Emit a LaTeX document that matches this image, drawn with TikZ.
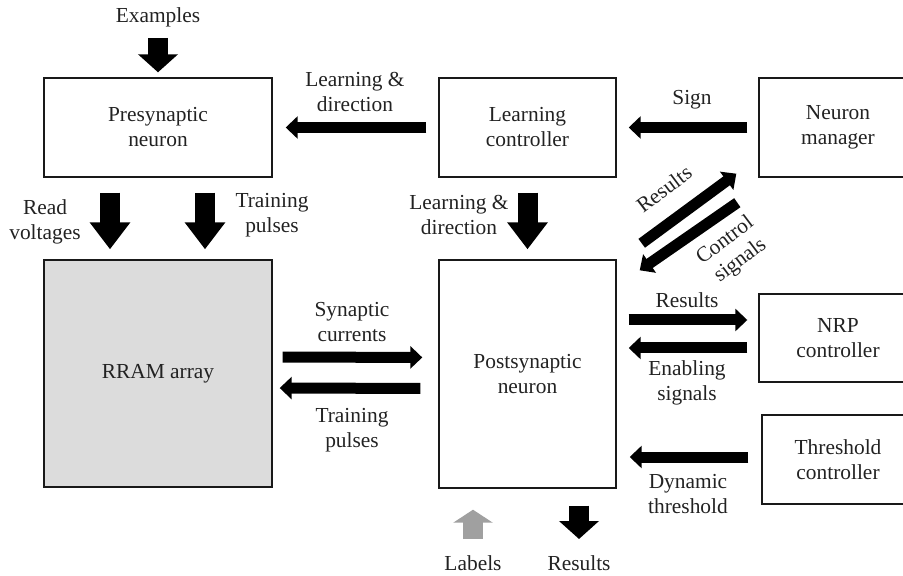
\documentclass[tikz,border=0pt]{standalone}
\usepackage{fontspec}
\setmainfont{Liberation Serif}
\usetikzlibrary{arrows.meta}

\definecolor{txtgray}{HTML}{222222}
\definecolor{lblgray}{HTML}{A0A0A0}
\definecolor{memgray}{HTML}{DCDCDC}

\tikzset{
    blk/.style={draw=black!90, line width=0.7pt, align=center, inner sep=0pt},
    sig/.style={line width=5.5pt, -{Triangle[length=6pt,width=11pt]}},
    bus/.style={line width=10pt, -{Triangle[length=#1,width=19.5pt]}},
    bus/.default=13.5pt,
}

\begin{document}
\begin{tikzpicture}[x=0.5pt,y=-0.5pt,
    every node/.style={font=\fontsize{10.7}{12.5}\selectfont, text=txtgray, align=center}]
        \path[use as bounding box, clip] (0,0) rectangle (903,576);

        % blocks
        \node[blk, minimum width=114pt, minimum height=49.5pt] (pre) at (158,127.5) {Presynaptic\\neuron};
        \node[blk, minimum width=88.5pt, minimum height=49.5pt] (lc) at (527.5,127.5) {Learning\\controller};
        \node[blk, minimum width=79pt, minimum height=49.5pt] (nm) at (838,127.5) {Neuron\\manager};
        \node[blk, fill=memgray, minimum width=114pt, minimum height=113.5pt] (rram) at (158,373.5) {RRAM array};
        \node[blk, minimum width=88.5pt, minimum height=114pt] (post) at (527.5,374) {Postsynaptic\\neuron};
        \node[blk, minimum width=79pt, minimum height=44pt] (nrp) at (838,338) {NRP\\controller};
        \node[blk, minimum width=76pt, minimum height=44.5pt] (thr) at (838,459.5) {Threshold\\controller};

        % free ends
        \coordinate (ex) at (158,38);
        \coordinate (lab) at (473,539);
        \coordinate (res) at (579,539);

        % top row
        \draw[bus=9pt, shorten >=2.5pt] (ex) -- (pre.north);
        \draw[sig, shorten <=6pt, shorten >=6.5pt] (lc.west) -- (pre.east); % to presynaptic
        \draw[sig, shorten <=5.5pt, shorten >=6pt] (nm.west) -- (lc.east);

        % down arrows
        \draw[bus, shorten <=7.5pt, shorten >=5pt] ([xshift=-24pt]pre.south) -- ([xshift=-24pt]rram.north);
        \draw[bus, shorten <=7.5pt, shorten >=5pt] ([xshift=23.5pt]pre.south) -- ([xshift=23.5pt]rram.north);
        \draw[bus, shorten <=7.5pt, shorten >=5pt] (lc.south) -- (post.north);

        % array <-> postsynaptic
        \draw[sig, shorten <=5pt, shorten >=8pt] ([yshift=8.25pt]rram.east) -- ([yshift=8.25pt]post.east -| post.west);
        \draw[sig, shorten <=9pt, shorten >=3.5pt] ([yshift=-7.25pt]post.west) -- ([yshift=-7.25pt]rram.east);

        % diagonal pair
        \draw[sig] ([shift={(25,-16)}]post.north east) -- ([shift={(-22,-4)}]nm.south west);
        \draw[sig] ([shift={(-21,25)}]nm.south west) -- ([shift={(23,11)}]post.north east);

        % right side
        \draw[sig, shorten <=6pt, shorten >=5.5pt] ([yshift=27pt]post.east) -- ([yshift=9pt]nrp.west);
        \draw[sig, shorten <=5.5pt, shorten >=6pt] ([yshift=-5pt]nrp.west) -- ([yshift=13pt]post.east);
        \draw[sig, shorten <=6.5pt, shorten >=6.5pt] ([yshift=1.25pt]thr.west) -- ([yshift=-41.5pt]post.east);

        % bottom
        \draw[bus=6.5pt, draw=lblgray, shorten >=10.5pt] (lab) -- (lab |- post.south);
        \draw[bus=9pt, shorten <=8.5pt] (res |- post.south) -- (res);

        % labels
        \node at (158,17) {Examples};
        \node at (355,92) {Learning \&\\direction};
        \node at (692,100) {Sign};
        \node at (45,221.5) {Read\\voltages};
        \node at (272,215.5) {Training\\pulses};
        \node at (459,215) {Learning \&\\direction};
        \node at (352,322.5) {Synaptic\\currents};
        \node at (352,430.5) {Training\\pulses};
        \node[rotate=37] at (664,189) {Results};
        \node[rotate=37] at (733,251) {Control\\signals};
        \node at (687,300) {Results};
        \node at (687,382.5) {Enabling\\signals};
        \node at (688,494.5) {Dynamic\\threshold};
        \node at (473,563) {Labels};
        \node at (579,563) {Results};
    \end{tikzpicture}
\end{document}
